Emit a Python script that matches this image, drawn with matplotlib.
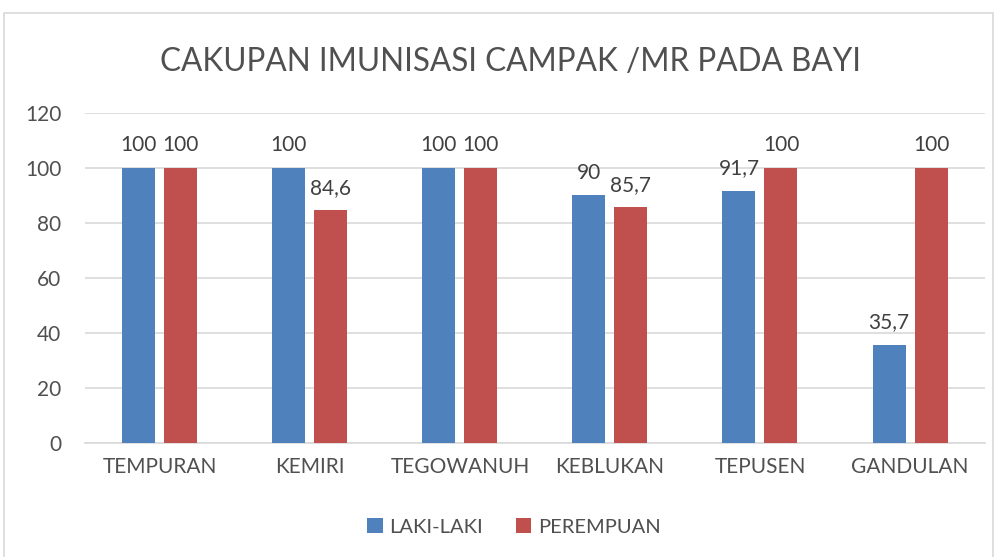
import matplotlib.pyplot as plt
import numpy as np
from matplotlib.patches import Rectangle

categories = ['TEMPURAN', 'KEMIRI', 'TEGOWANUH', 'KEBLUKAN', 'TEPUSEN', 'GANDULAN']
laki = [100, 100, 100, 90, 91.7, 35.7]
perempuan = [100, 84.6, 100, 85.7, 100, 100]
series_names = ['LAKI-LAKI', 'PEREMPUAN']

plt.rcParams['font.family'] = ['Lato', 'DejaVu Sans']

fig = plt.figure(figsize=(9.98, 5.57), dpi=100)
ax = fig.add_axes([0.085, 0.2047, 0.902, 0.5925])

# chart border
fig.patches.append(Rectangle((4/998, -0.1), 989/998, 1.1 - 13/557, transform=fig.transFigure,
                             fill=False, edgecolor='#d9d9d9', linewidth=1.2))

x = np.arange(len(categories))
w = 0.22
off = 0.14
b1 = ax.bar(x - off, laki, w, color='#4f81bd', label=series_names[0], zorder=3)
b2 = ax.bar(x + off, perempuan, w, color='#c0504d', label=series_names[1], zorder=3)

def fmt(v):
    return ('%g' % v).replace('.', ',')

for bars, vals in ((b1, laki), (b2, perempuan)):
    for r, v in zip(bars, vals):
        ax.annotate(fmt(v), (r.get_x() + r.get_width() / 2, v), xytext=(0, 9),
                    textcoords='offset points', ha='center', va='bottom',
                    fontsize=15, color='#404040')

ax.set_xlim(-0.5, len(categories) - 0.5)
ax.set_ylim(0, 120)
ax.set_yticks(range(0, 121, 20))
ax.set_xticks(x)
ax.set_xticklabels(categories)
ax.tick_params(axis='both', length=0, labelsize=15, labelcolor='#505050')
ax.tick_params(axis='x', pad=10)
ax.tick_params(axis='y', pad=17)
ax.grid(axis='y', color='#d9d9d9', linewidth=1.2, zorder=0)
for s in ['top', 'right', 'left']:
    ax.spines[s].set_visible(False)
ax.spines['bottom'].set_color('#d9d9d9')
ax.spines['bottom'].set_linewidth(1.2)

fig.text(0.512, 1 - 62/557, 'CAKUPAN IMUNISASI CAMPAK /MR PADA BAYI', ha='center', va='center',
         fontsize=22.7, color='#505050')

fig.legend(loc='center', bbox_to_anchor=(0.515, 1 - 527/557), ncol=2, frameon=False,
           fontsize=14.5, labelcolor='#505050', handlelength=0.75, handleheight=0.75,
           columnspacing=1.6, handletextpad=0.35)

fig.savefig('out.png', dpi=100)
